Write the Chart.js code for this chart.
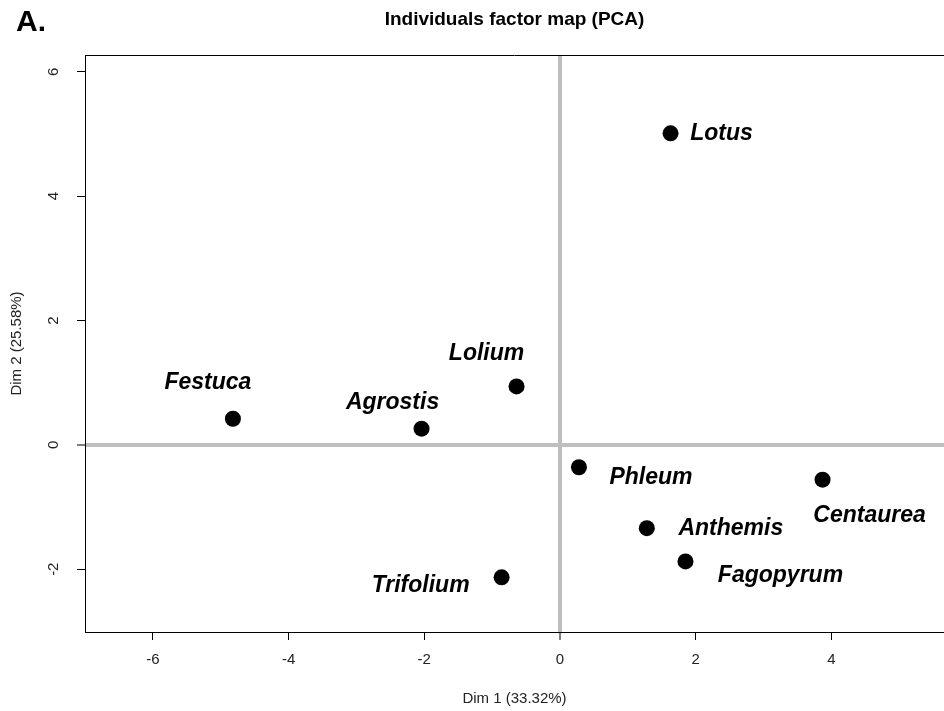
<!DOCTYPE html>
<html>
<head>
<meta charset="utf-8">
<script src="https://cdn.jsdelivr.net/npm/chart.js@4/dist/chart.umd.min.js"></script>
<style>
  html, body { margin: 0; padding: 0; background: #fff; }
  #c { display: block; }
</style>
</head>
<body>
<canvas id="c" width="944" height="711"></canvas>
<script>
// ---- data ----
const species = ["Lotus", "Lolium", "Festuca", "Agrostis", "Phleum", "Centaurea", "Anthemis", "Fagopyrum", "Trifolium"];
const dim1 = [1.63, -0.64, -4.82, -2.04, 0.28, 3.87, 1.28, 1.85, -0.86];
const dim2 = [5.01, 0.94, 0.42, 0.26, -0.36, -0.56, -1.34, -1.875, -2.13];
const xTicks = [-6, -4, -2, 0, 2, 4];
const yTicks = [-2, 0, 2, 4, 6];

// label placement (pixel offsets from each point, style only)
const labelDx = [51, -30, -25, -29, 72, 47, 84, 95, -81];
const labelDy = [0, -33, -36, -26, 10, 36, 0, 14, 8];

const FONT = "'Liberation Sans', Arial, Helvetica, sans-serif";

const points = species.map((s, i) => ({ x: dim1[i], y: dim2[i] }));

const labelPlugin = {
  id: 'pointLabels',
  afterDatasetsDraw(chart) {
    const ctx = chart.ctx;
    const meta = chart.getDatasetMeta(0);
    ctx.save();
    ctx.font = "italic bold 23px " + FONT;
    ctx.fillStyle = '#000';
    ctx.textAlign = 'center';
    ctx.textBaseline = 'middle';
    meta.data.forEach((el, i) => {
      ctx.fillText(species[i], el.x + labelDx[i], el.y + labelDy[i]);
    });
    ctx.restore();
  }
};

const framePlugin = {
  id: 'frame',
  afterDraw(chart) {
    const ctx = chart.ctx;
    const a = chart.chartArea;
    ctx.save();
    ctx.strokeStyle = '#000';
    ctx.lineWidth = 1;
    ctx.beginPath();
    ctx.moveTo(a.left, a.top + 0.5);
    ctx.lineTo(a.right, a.top + 0.5);
    ctx.stroke();
    ctx.font = "bold 30px " + FONT;
    ctx.fillStyle = '#000';
    ctx.textAlign = 'left';
    ctx.textBaseline = 'middle';
    ctx.fillText("A.", 16, 23);
    ctx.restore();
  }
};

const zeroGrid = {
  color: (c) => (c.tick && c.tick.value === 0) ? '#bebebe' : 'rgba(0,0,0,0)',
  lineWidth: (c) => (c.tick && c.tick.value === 0) ? 4 : 1,
  tickColor: '#000',
  tickWidth: 1,
  tickLength: 8,
  drawOnChartArea: true,
  drawTicks: true
};

new Chart(document.getElementById('c'), {
  type: 'scatter',
  data: {
    datasets: [{
      data: points,
      backgroundColor: '#000',
      borderWidth: 0,
      pointRadius: 8,
      pointHoverRadius: 8
    }]
  },
  options: {
    responsive: false,
    devicePixelRatio: 1,
    animation: false,
    events: [],
    layout: { padding: 0, autoPadding: false },
    plugins: {
      legend: { display: false },
      tooltip: { enabled: false },
      title: {
        display: true,
        text: 'Individuals factor map (PCA)',
        fullSize: false,
        color: '#000',
        font: { family: FONT, size: 19, weight: 'bold' },
        padding: { top: 8.6, bottom: 23.6 }
      }
    },
    scales: {
      x: {
        type: 'linear',
        min: -7.0,
        max: 5.66,
        afterBuildTicks: (s) => { s.ticks = xTicks.map(v => ({ value: v })); },
        afterFit: (s) => { s.height = 79; },
        ticks: {
          color: '#222',
          font: { family: FONT, size: 15 },
          padding: 11,
          includeBounds: false,
          maxRotation: 0,
          callback: (v) => String(v)
        },
        grid: zeroGrid,
        border: { display: true, color: '#000', width: 1 },
        title: {
          display: true,
          text: 'Dim 1 (33.32%)',
          color: '#222',
          font: { family: FONT, size: 15 },
          padding: { top: 0, bottom: 3 }
        }
      },
      y: {
        type: 'linear',
        min: -3.01,
        max: 6.27,
        afterBuildTicks: (s) => { s.ticks = yTicks.map(v => ({ value: v })); },
        afterFit: (s) => { s.width = 85; },
        ticks: {
          color: '#222',
          font: { family: FONT, size: 15 },
          padding: 16,
          minRotation: 90,
          maxRotation: 90,
          crossAlign: 'center',
          includeBounds: false,
          callback: (v) => String(v)
        },
        grid: zeroGrid,
        border: { display: true, color: '#000', width: 1 },
        title: {
          display: true,
          text: 'Dim 2 (25.58%)',
          color: '#222',
          font: { family: FONT, size: 15 },
          padding: { top: 7.5, bottom: 0 }
        }
      }
    }
  },
  plugins: [labelPlugin, framePlugin]
});
</script>
</body>
</html>
